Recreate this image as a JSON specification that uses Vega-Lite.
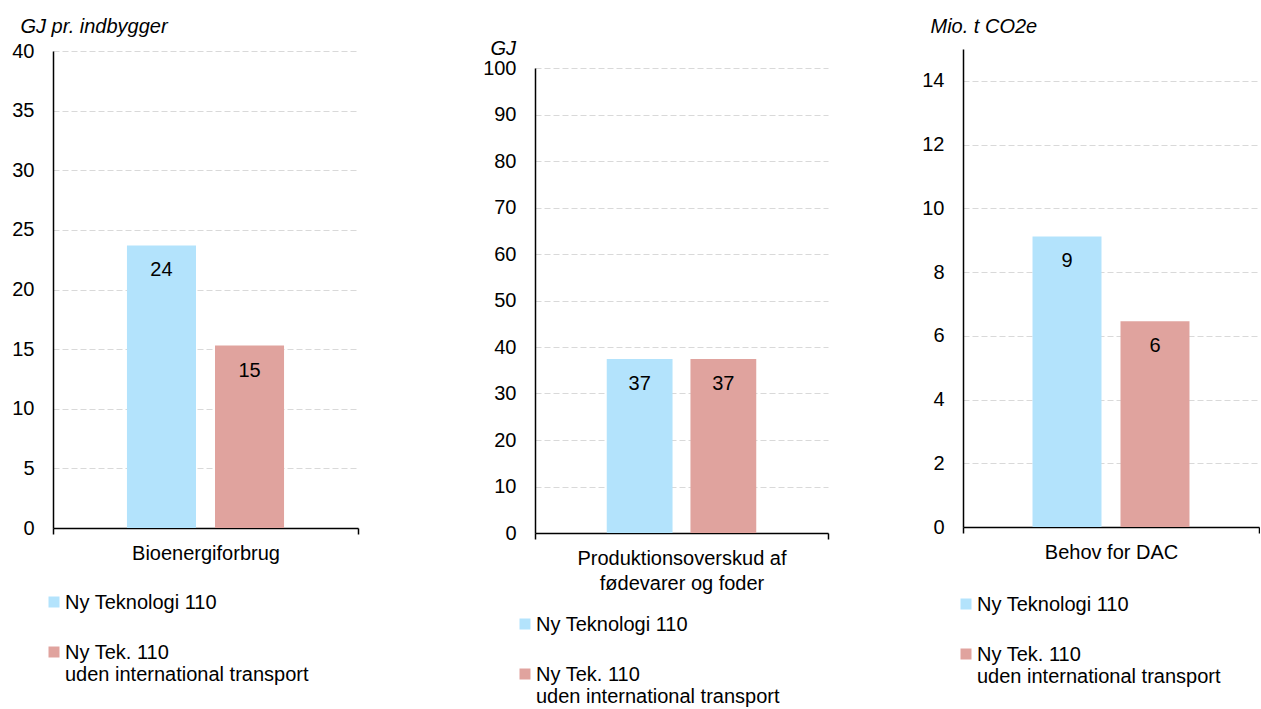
{
  "$schema": "https://vega.github.io/schema/vega-lite/v6.json",
  "padding": {"left": 11, "top": 16, "right": 0, "bottom": 0},
  "config": {
    "font": "Liberation Sans",
    "view": {"stroke": null},
    "axis": {
      "labelFont": "Liberation Sans", "labelFontSize": 20, "labelColor": "#000",
      "titleFont": "Liberation Sans", "titleFontSize": 20, "titleFontWeight": "normal", "titleColor": "#000",
      "domainColor": "#000", "domainWidth": 1.5, "tickColor": "#000", "tickWidth": 1.5
    },
    "legend": {
      "labelFont": "Liberation Sans", "labelFontSize": 20, "labelColor": "#000",
      "symbolType": "square", "symbolSize": 121, "symbolStrokeWidth": 0,
      "labelLimit": 500, "labelLineHeight": 23, "labelBaseline": "top", "labelOffset": 1,
      "rowPadding": 29, "padding": 0, "title": null
    }
  },
  "datasets": {
    "bars": [
      {"panel": 1, "cat": "Bioenergiforbrug", "series": "Ny Teknologi 110", "value": 23.7},
      {"panel": 1, "cat": "Bioenergiforbrug", "series": "Ny Tek. 110|uden international transport", "value": 15.3},
      {"panel": 2, "cat": "Produktionsoverskud af|fødevarer og foder", "series": "Ny Teknologi 110", "value": 37.4},
      {"panel": 2, "cat": "Produktionsoverskud af|fødevarer og foder", "series": "Ny Tek. 110|uden international transport", "value": 37.4},
      {"panel": 3, "cat": "Behov for DAC", "series": "Ny Teknologi 110", "value": 9.12},
      {"panel": 3, "cat": "Behov for DAC", "series": "Ny Tek. 110|uden international transport", "value": 6.46}
    ]
  },
  "bounds": "flush",
  "spacing": 177,
  "resolve": {"scale": {"color": "independent", "y": "independent", "x": "independent", "xOffset": "independent"}, "legend": {"color": "independent"}},
  "hconcat": [
    {
      "data": {"name": "bars"},
      "width": 305, "height": 479,
      "transform": [{"filter": "datum.panel == 1"}],
      "encoding": {
        "x": {"field": "cat", "type": "nominal", "title": null,
          "scale": {"paddingInner": 0, "paddingOuter": 0},
          "axis": {"labelAngle": 0, "tickBand": "extent", "tickSize": 6, "labelPadding": 9, "labelBaseline": "top", "labelExpr": "split(datum.label, '|')", "labelLineHeight": 25, "labelLimit": 500, "grid": false}},
        "xOffset": {"field": "series", "type": "nominal", "sort": ["Ny Teknologi 110", "Ny Tek. 110|uden international transport"],
          "scale": {"paddingInner": 0.216, "paddingOuter": 0.84}},
        "y": {"field": "value", "type": "quantitative",
          "scale": {"domain": [0, 40], "range": [479, 2], "nice": false},
          "axis": {"values": [0, 5, 10, 15, 20, 25, 30, 35, 40], "ticks": false, "tickSize": 0, "labelPadding": 19,
            "title": "GJ pr. indbygger", "titleAngle": 0, "titleAlign": "left", "titleBaseline": "alphabetic", "titleX": -33, "titleY": -17, "titleFontStyle": "italic",
            "grid": true, "gridColor": "#D9D9D9", "gridDash": [6, 3], "gridWidth": 1}}
      },
      "layer": [
        {"mark": {"type": "bar"},
          "encoding": {"color": {"field": "series", "type": "nominal",
            "scale": {"domain": ["Ny Teknologi 110", "Ny Tek. 110|uden international transport"], "range": ["#B3E3FC", "#E0A39E"]},
            "legend": {"orient": "none", "legendX": -9, "legendY": 543, "labelExpr": "split(datum.label, '|')", "encode": {"labels": {"update": {"dy": {"value": -9}}}}}}}},
        {"mark": {"type": "text", "baseline": "middle", "dy": 25, "fontSize": 20, "color": "#000", "font": "Liberation Sans"},
          "encoding": {"text": {"field": "value", "type": "quantitative", "format": ".0f"}}}
      ]
    },
    {
      "bounds": "flush",
      "spacing": 135,
      "resolve": {"scale": {"color": "independent", "y": "independent", "x": "independent", "xOffset": "independent"}, "legend": {"color": "independent"}},
      "hconcat": [
        {
          "data": {"name": "bars"},
          "width": 293, "height": 484,
          "transform": [{"filter": "datum.panel == 2"}],
          "encoding": {
            "x": {"field": "cat", "type": "nominal", "title": null,
              "scale": {"paddingInner": 0, "paddingOuter": 0},
              "axis": {"labelAngle": 0, "tickBand": "extent", "tickSize": 6, "labelPadding": 9, "labelBaseline": "top", "labelExpr": "split(datum.label, '|')", "labelLineHeight": 25, "labelLimit": 500, "grid": false}},
            "xOffset": {"field": "series", "type": "nominal", "sort": ["Ny Teknologi 110", "Ny Tek. 110|uden international transport"],
              "scale": {"paddingInner": 0.214, "paddingOuter": 0.857}},
            "y": {"field": "value", "type": "quantitative",
              "scale": {"domain": [0, 100], "range": [484, 19], "nice": false},
              "axis": {"values": [0, 10, 20, 30, 40, 50, 60, 70, 80, 90, 100], "ticks": false, "tickSize": 0, "labelPadding": 19,
                "title": "GJ", "titleAngle": 0, "titleAlign": "left", "titleBaseline": "alphabetic", "titleX": -45, "titleY": 5, "titleFontStyle": "italic",
                "grid": true, "gridColor": "#D9D9D9", "gridDash": [6, 3], "gridWidth": 1}}
          },
          "layer": [
            {"mark": {"type": "bar"},
              "encoding": {"color": {"field": "series", "type": "nominal",
                "scale": {"domain": ["Ny Teknologi 110", "Ny Tek. 110|uden international transport"], "range": ["#B3E3FC", "#E0A39E"]},
                "legend": {"orient": "none", "legendX": -20, "legendY": 565, "labelExpr": "split(datum.label, '|')", "encode": {"labels": {"update": {"dy": {"value": -9}}}}}}}},
            {"mark": {"type": "text", "baseline": "middle", "dy": 25, "fontSize": 20, "color": "#000", "font": "Liberation Sans"},
              "encoding": {"text": {"field": "value", "type": "quantitative", "format": ".0f"}}}
          ]
        },
        {
          "data": {"name": "bars"},
          "width": 296, "height": 478,
          "transform": [{"filter": "datum.panel == 3"}],
          "encoding": {
            "x": {"field": "cat", "type": "nominal", "title": null,
              "scale": {"paddingInner": 0, "paddingOuter": 0},
              "axis": {"labelAngle": 0, "tickBand": "extent", "tickSize": 6, "labelPadding": 9, "labelBaseline": "top", "labelExpr": "split(datum.label, '|')", "labelLineHeight": 25, "labelLimit": 500, "grid": false}},
            "xOffset": {"field": "series", "type": "nominal", "sort": ["Ny Teknologi 110", "Ny Tek. 110|uden international transport"],
              "scale": {"paddingInner": 0.216, "paddingOuter": 0.79}},
            "y": {"field": "value", "type": "quantitative",
              "scale": {"domain": [0, 15], "nice": false},
              "axis": {"values": [0, 2, 4, 6, 8, 10, 12, 14], "ticks": false, "tickSize": 0, "labelPadding": 19,
                "title": "Mio. t CO2e", "titleAngle": 0, "titleAlign": "left", "titleBaseline": "alphabetic", "titleX": -33, "titleY": -17, "titleFontStyle": "italic",
                "grid": true, "gridColor": "#D9D9D9", "gridDash": [6, 3], "gridWidth": 1}}
          },
          "layer": [
            {"mark": {"type": "bar"},
              "encoding": {"color": {"field": "series", "type": "nominal",
                "scale": {"domain": ["Ny Teknologi 110", "Ny Tek. 110|uden international transport"], "range": ["#B3E3FC", "#E0A39E"]},
                "legend": {"orient": "none", "legendX": -7, "legendY": 545, "labelExpr": "split(datum.label, '|')", "encode": {"labels": {"update": {"dy": {"value": -9}}}}}}}},
            {"mark": {"type": "text", "baseline": "middle", "dy": 25, "fontSize": 20, "color": "#000", "font": "Liberation Sans"},
              "encoding": {"text": {"field": "value", "type": "quantitative", "format": ".0f"}}}
          ]
        }
      ]
    }
  ]
}
